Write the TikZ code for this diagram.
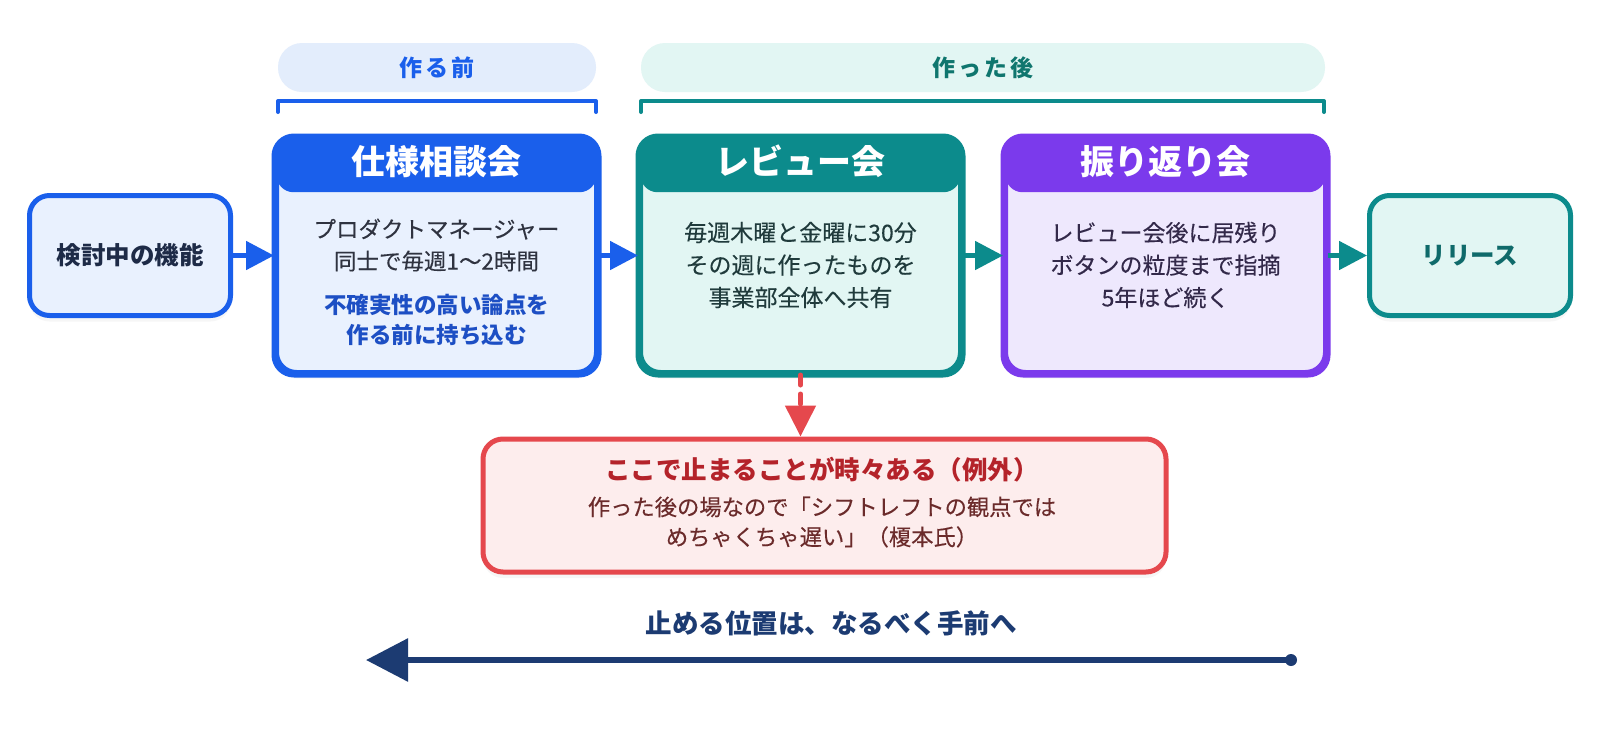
\documentclass[tikz,border=0pt]{standalone}
\usepackage{fontspec}
\setmainfont{Noto Sans CJK JP}
\newfontfamily\jpmed[FakeBold=0.25]{Noto Sans CJK JP}
\newfontfamily\jpsp[LetterSpace=12]{Noto Sans CJK JP}
\usetikzlibrary{arrows.meta,shadows}
\definecolor{cblue}{HTML}{1A5FEB}
\definecolor{cbluefill}{HTML}{E9F1FE}
\definecolor{cbluepill}{HTML}{E3EDFC}
\definecolor{cteal}{HTML}{0C8B8C}
\definecolor{ctealfill}{HTML}{E2F6F3}
\definecolor{ctealpill}{HTML}{E2F6F3}
\definecolor{cpurple}{HTML}{7B3AEC}
\definecolor{cpurplefill}{HTML}{EEE8FD}
\definecolor{cred}{HTML}{E5484D}
\definecolor{credfill}{HTML}{FDEDED}
\definecolor{credtitle}{HTML}{B4232A}
\definecolor{credtext}{HTML}{6B2B2B}
\definecolor{cnavy}{HTML}{1C3B72}
\definecolor{cnavytext}{HTML}{1E2B47}
\definecolor{ctealtext}{HTML}{0F6A6A}
\definecolor{ctealdark}{HTML}{0F766E}
\definecolor{cbluetext}{HTML}{1D4FC4}
\definecolor{cgray}{HTML}{2F3340}
\definecolor{cgrayteal}{HTML}{203B3C}
\definecolor{cgraypurple}{HTML}{33294A}
\newcommand\fbody{\jpmed\fontsize{22.5}{32}\selectfont}
\newcommand\fhead{\fontsize{34}{38}\selectfont\bfseries}
\newcommand\fpill{\jpsp\fontsize{23}{26}\selectfont\bfseries}
\newcommand\fside{\fontsize{24.5}{28}\selectfont\bfseries}
\begin{document}
\begin{tikzpicture}[x=1pt,y=-1pt,
  box/.style={rounded corners=20pt, line width=5pt, inner sep=0pt,
    drop shadow={opacity=0.07, shadow xshift=0pt, shadow yshift=-6pt}},
  headbox/.style={rounded corners=17pt, inner sep=0pt, minimum height=56pt},
  headtext/.style={inner sep=0pt, text=white, font=\fhead},
  pill/.style={rounded corners=24pt, inner sep=0pt, minimum height=49pt, font=\fpill},
  bracket/.style={line width=4pt, line cap=round, line join=round},
  conn/.style={line width=5pt, -{Triangle[length=28pt,width=28pt]}},
  body/.style={align=center, font=\fbody, inner sep=0pt},
]
\useasboundingbox (0,0) rectangle (1603,737);
\fill[white] (0,0) rectangle (1603,737);

% phase pills
\node[pill, fill=cbluepill, text=cblue, minimum width=318pt] (P1) at (437,67.5) {作る前};
\node[pill, fill=ctealpill, text=ctealdark, minimum width=684pt] (P2) at (983,67.5) {作った後};
\draw[bracket, cblue] (278,112) -- (278,101) -- (596,101) -- (596,112);
\draw[bracket, cteal] (641,112) -- (641,101) -- (1324,101) -- (1324,112);

% side boxes
\node[box, draw=cblue, fill=cbluefill, minimum width=201pt, minimum height=120pt, text=cnavytext, font=\fside] (A) at (130,255.5) {検討中の機能};
\node[box, draw=cteal, fill=ctealfill, minimum width=201pt, minimum height=120pt, text=ctealtext, font=\fside] (E) at (1470,255.5) {リリース};

% main boxes
\node[box, draw=cblue, fill=cbluefill, minimum width=320pt, minimum height=234pt] (B) at (436.5,255.5) {};
\node[headbox, fill=cblue, minimum width=320pt, anchor=north] (BH) at (B.north) {};
\node[headtext] (BT) at ([yshift=-25.5pt]B.north) {仕様相談会};
\draw[cblue, line width=5pt, rounded corners=20pt] (B.north west) rectangle (B.south east);
\node[body, text=cgray] (B1) at (436.5,245) {プロダクトマネージャー\\同士で毎週1〜2時間};
\node[body, text=cbluetext, font=\fontsize{22.5}{30}\selectfont\bfseries] (B2) at (436.5,320) {不確実性の高い論点を\\作る前に持ち込む};

\node[box, draw=cteal, fill=ctealfill, minimum width=320pt, minimum height=234pt] (C) at (800.5,255.5) {};
\node[headbox, fill=cteal, minimum width=320pt, anchor=north] (CH) at (C.north) {};
\node[headtext] (CT) at ([yshift=-25.5pt]C.north) {レビュー会};
\draw[cteal, line width=5pt, rounded corners=20pt] (C.north west) rectangle (C.south east);
\node[body, text=cgrayteal, font=\jpmed\fontsize{23}{32.5}\selectfont] (C1) at (800.5,265) {毎週木曜と金曜に30分\\その週に作ったものを\\事業部全体へ共有};

\node[box, draw=cpurple, fill=cpurplefill, minimum width=320pt, minimum height=234pt] (D) at (1165.5,255.5) {};
\node[headbox, fill=cpurple, minimum width=320pt, anchor=north] (DH) at (D.north) {};
\node[headtext] (DT) at ([yshift=-25.5pt]D.north) {振り返り会};
\draw[cpurple, line width=5pt, rounded corners=20pt] (D.north west) rectangle (D.south east);
\node[body, text=cgraypurple, font=\jpmed\fontsize{23}{32.5}\selectfont] (D1) at (1165.5,265) {レビュー会後に居残り\\ボタンの粒度まで指摘\\5年ほど続く};

% connectors
\draw[conn, cblue] (A.east) -- (A.east -| B.west);
\draw[conn, cblue] (B.east |- A.east) -- (A.east -| C.west);
\draw[conn, cteal] (C.east |- A.east) -- (A.east -| D.west);
\draw[conn, cteal] (D.east |- A.east) -- (A.east -| E.west);

% exception box
\node[box, draw=cred, fill=credfill, minimum width=683pt, minimum height=133pt] (R) at (824.5,505.5) {};
\node[inner sep=0pt, text=credtitle, font=\fontsize{25.5}{28}\selectfont\bfseries] (R1) at (822,470) {ここで止まることが時々ある（例外）};
\node[body, text=credtext, font=\jpmed\fontsize{22.3}{30}\selectfont] (R2) at (822,522) {作った後の場なので「シフトレフトの観点では\\めちゃくちゃ遅い」（榎本氏）};
\draw[cred, line width=5pt, line cap=round, dash pattern=on 10pt off 9pt] (C.south) -- ([yshift=30pt]C.south |- R.north);
\draw[cred, line width=5pt, -{Triangle[length=31pt,width=30pt]}] ([yshift=28pt]C.south |- R.north) -- (C.south |- R.north);

% bottom arrow
\node[inner sep=0pt, text=cnavy, font=\fontsize{26.5}{30}\selectfont\bfseries] (L) at (831,623) {止める位置は、なるべく手前へ};
\coordinate (s) at (1291,660);
\coordinate (e) at (366,660);
\draw[cnavy, line width=6pt, -{Triangle[length=42pt,width=42pt]}] (s) -- (e);
\fill[cnavy] (s) circle (6pt);
\end{tikzpicture}
\end{document}
